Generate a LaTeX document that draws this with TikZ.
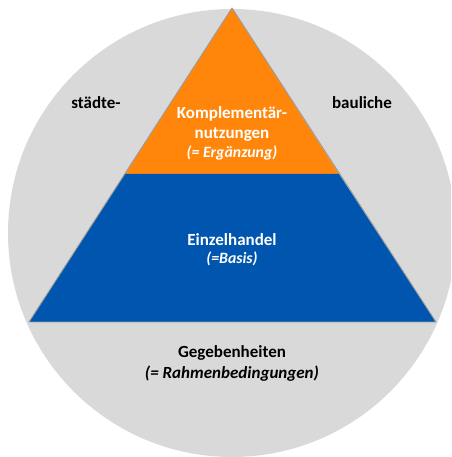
\documentclass[tikz,border=0pt]{standalone}
\usepackage{fontspec}
\setmainfont{Carlito}
\usetikzlibrary{positioning}
\definecolor{RingGrey}{HTML}{D9D9D9}
\definecolor{TopOrange}{HTML}{FF860B}
\definecolor{BaseBlue}{HTML}{0056AE}
\definecolor{EdgeGrey}{HTML}{9A9A9A}

\begin{document}
\begin{tikzpicture}[
    x=1pt,
    y=1pt,
    label/.style={
        font=\fontsize{17}{20.5}\selectfont\bfseries,
        align=center,
        inner sep=0pt
    },
    sublabel/.style={
        font=\fontsize{15.8}{19}\selectfont\bfseries\itshape,
        inner sep=0pt
    }
]

\useasboundingbox (0,0) rectangle (451,457);

% =========================
% OUTER RING
% =========================
\begin{scope}
\clip (0,0) rectangle (451,457);
\fill[
    RingGrey
]
(232,224) circle (224);
\end{scope}

% =========================
% PYRAMID TOP
% =========================
\fill[
    TopOrange
]
(232,449) -- (339,283) -- (125,283) -- cycle;

% =========================
% PYRAMID BASE
% =========================
\fill[
    BaseBlue
]
(125,283) -- (339,283) -- (436,135) -- (29,135) -- cycle;

\draw[
    EdgeGrey,
    line width=0.9pt,
    line join=round
]
(232,449) -- (436,135) -- (29,135) -- cycle;

% =========================
% TEXTS
% =========================
\node[label] (left) at (96,354) {städte-};
\node[label] (right) at (362,354) {bauliche};

\node[label, text=white] (compl) at (232,333)
{Komplementär-\\nutzungen};
\node[sublabel, text=white] (erg) at (232,304) {(= Ergänzung)};

\node[label, text=white] (retail) at (232,217) {Einzelhandel};
\node[sublabel, text=white] (basis) at (232,198) {(=Basis)};

\node[label] (given) at (232,104) {Gegebenheiten};
\node[sublabel, font=\fontsize{17}{20}\selectfont\bfseries\itshape] (frame) at (232,83)
{(= Rahmenbedingungen)};

\end{tikzpicture}
\end{document}
